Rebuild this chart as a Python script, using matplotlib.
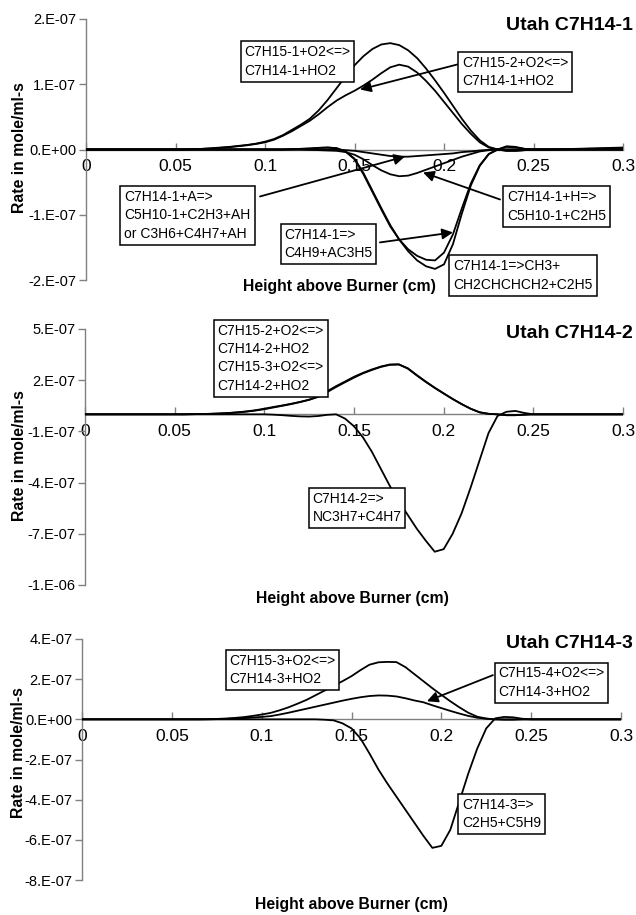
import matplotlib
matplotlib.use('Agg')
import matplotlib.pyplot as plt
from matplotlib.ticker import FuncFormatter, FixedLocator

plt.rcParams['font.family'] = ['Liberation Sans', 'DejaVu Sans']

W, H = 636, 915
SCALE = 1e-7  # all rates below are in units of 1e-7 mole/ml-s

# height above burner (cm), shared by every series
height = [0.0,
          0.05, 0.055, 0.06, 0.065, 0.07, 0.075, 0.08, 0.085, 0.09, 0.095,
          0.1, 0.105, 0.11, 0.115, 0.12, 0.125, 0.13, 0.135, 0.14, 0.145,
          0.15, 0.155, 0.16, 0.165, 0.17, 0.175, 0.18, 0.185, 0.19, 0.195,
          0.2, 0.205, 0.21, 0.215, 0.22, 0.225, 0.23, 0.235, 0.24, 0.245,
          0.25, 0.255, 0.26, 0.3]

# --- Utah C7H14-1 ---
r1_c7h15_1_o2 = [0,
                 0, 0, 0.005, 0.01, 0.02, 0.03, 0.04, 0.055, 0.07, 0.09,
                 0.12, 0.16, 0.22, 0.3, 0.38, 0.47, 0.6, 0.76, 0.94, 1.12,
                 1.29, 1.43, 1.54, 1.61, 1.63, 1.6, 1.52, 1.4, 1.24, 1.06,
                 0.87, 0.67, 0.47, 0.29, 0.14, 0.04, 0.0, -0.02, -0.02, -0.01,
                 0, 0, 0, 0.03]
r1_c7h15_2_o2 = [0,
                 0, 0, 0.005, 0.01, 0.015, 0.025, 0.035, 0.05, 0.065, 0.085,
                 0.11, 0.15, 0.21, 0.28, 0.36, 0.44, 0.54, 0.65, 0.75, 0.83,
                 0.9, 0.98, 1.07, 1.17, 1.26, 1.3, 1.27, 1.18, 1.05, 0.9,
                 0.73, 0.56, 0.39, 0.24, 0.11, 0.03, 0.0, -0.02, -0.02, -0.01,
                 0, 0, 0, 0.02]
r1_c4h9_ac3h5 = [0,
                 0, 0, 0, 0, 0, 0, 0, 0, 0, 0,
                 0, 0, 0, 0.005, 0.01, 0.015, 0.025, 0.03, 0.02, -0.03,
                 -0.15, -0.38, -0.65, -0.92, -1.18, -1.38, -1.53, -1.63, -1.69, -1.7,
                 -1.58, -1.3, -0.9, -0.52, -0.24, -0.07, 0.0, 0.04, 0.03, 0.01,
                 0, 0, 0, 0]
r1_ch3_c4h6_c2h5 = [0,
                    0, 0, 0, 0, 0, 0, 0, 0, 0, 0,
                    0, 0, 0, 0.005, 0.01, 0.015, 0.025, 0.03, 0.02, -0.03,
                    -0.14, -0.36, -0.63, -0.9, -1.16, -1.38, -1.56, -1.7, -1.79, -1.83,
                    -1.76, -1.45, -0.98, -0.55, -0.25, -0.07, 0.0, 0.05, 0.04, 0.01,
                    0, 0, 0, 0]
r1_h_abstr = [0,
              0, 0, 0, 0, 0, 0, 0, 0, 0, 0,
              0, 0, 0, 0, 0, -0.005, -0.01, -0.015, -0.02, -0.04,
              -0.08, -0.15, -0.24, -0.32, -0.38, -0.41, -0.4, -0.36, -0.31, -0.26,
              -0.21, -0.16, -0.11, -0.07, -0.03, -0.01, 0, 0, 0, 0,
              0, 0, 0, 0]
r1_a_abstr = [0,
              0, 0, 0, 0, 0, 0, 0, 0, 0, 0,
              0, 0, 0, 0, 0, 0, 0, 0, 0, -0.01,
              -0.02, -0.04, -0.06, -0.08, -0.1, -0.11, -0.11, -0.1, -0.09, -0.08,
              -0.07, -0.06, -0.04, -0.03, -0.015, -0.005, 0, 0, 0, 0,
              0, 0, 0, 0]

# --- Utah C7H14-2 ---
r2_c7h15_2_o2 = [0,
                 0, 0, 0.01, 0.02, 0.03, 0.05, 0.08, 0.12, 0.17, 0.24,
                 0.33, 0.43, 0.52, 0.62, 0.73, 0.86, 1.05, 1.35, 1.65, 1.92,
                 2.2, 2.43, 2.63, 2.8, 2.92, 2.93, 2.68, 2.28, 1.9, 1.55,
                 1.22, 0.9, 0.6, 0.33, 0.12, 0.03, 0.0, -0.05, -0.05, -0.02,
                 0, 0, 0, 0]
r2_c7h15_3_o2 = [0,
                 0, 0, 0.01, 0.02, 0.03, 0.05, 0.07, 0.11, 0.16, 0.22,
                 0.3, 0.4, 0.5, 0.6, 0.72, 0.85, 1.02, 1.3, 1.6, 1.88,
                 2.15, 2.4, 2.6, 2.78, 2.9, 2.92, 2.7, 2.3, 1.92, 1.56,
                 1.23, 0.9, 0.6, 0.33, 0.12, 0.03, 0.0, -0.05, -0.05, -0.02,
                 0, 0, 0, 0]
r2_nc3h7_c4h7 = [0,
                 0, 0, 0, 0, 0, 0, 0, 0, 0, 0,
                 0, -0.02, -0.05, -0.09, -0.12, -0.13, -0.1, -0.03, 0.0, -0.25,
                 -0.7, -1.35, -2.2, -3.2, -4.2, -5.1, -5.9, -6.7, -7.4, -8.05,
                 -7.9, -7.0, -5.8, -4.3, -2.7, -1.1, -0.1, 0.15, 0.2, 0.08,
                 0, 0, 0, 0]

# --- Utah C7H14-3 ---
r3_c7h15_3_o2 = [0,
                 0, 0, 0, 0, 0.01, 0.02, 0.04, 0.07, 0.11, 0.17,
                 0.24, 0.32, 0.45, 0.6, 0.78, 0.97, 1.2, 1.43, 1.67, 1.9,
                 2.15, 2.45, 2.72, 2.84, 2.86, 2.85, 2.6, 2.25, 1.9, 1.55,
                 1.22, 0.9, 0.6, 0.33, 0.13, 0.04, 0.0, -0.02, -0.02, 0,
                 0, 0, 0, 0]
r3_c7h15_4_o2 = [0,
                 0, 0, 0, 0, 0, 0.01, 0.02, 0.04, 0.06, 0.09,
                 0.12, 0.16, 0.24, 0.33, 0.43, 0.53, 0.63, 0.73, 0.83, 0.93,
                 1.02, 1.1, 1.16, 1.19, 1.18, 1.14, 1.05, 0.94, 0.85, 0.7,
                 0.56, 0.42, 0.29, 0.17, 0.08, 0.03, 0, 0, 0, 0,
                 0, 0, 0, 0]
r3_c2h5_c5h9 = [0,
                0, 0, 0, 0, 0, 0, 0, 0, 0, 0,
                0, 0, 0, 0, 0, 0, 0, -0.02, -0.05, -0.2,
                -0.45, -0.95, -1.7, -2.5, -3.2, -3.85, -4.5, -5.15, -5.8, -6.4,
                -6.3, -5.5, -4.1, -2.7, -1.45, -0.45, 0.05, 0.12, 0.1, 0.03,
                0, 0, 0, 0]

x_ticks = [0, 0.05, 0.1, 0.15, 0.2, 0.25, 0.3]
y_ticks_1 = [-2, -1, 0, 1, 2]
y_ticks_2 = [-10, -7, -4, -1, 2, 5]
y_ticks_3 = [-8, -6, -4, -2, 0, 2, 4]

fig = plt.figure(figsize=(W / 100, H / 100), dpi=100)


def add_panel(left, top, right, bottom):
    return fig.add_axes([left / W, 1 - bottom / H, (right - left) / W, (bottom - top) / H])


def fig_text(x, y, s, **kw):
    fig.text(x / W, 1 - y / H, s, **kw)


def setup(ax, yticks):
    ax.set_xlim(0, 0.3)
    ax.set_ylim(yticks[0] * SCALE, yticks[-1] * SCALE)
    for side in ['top', 'right']:
        ax.spines[side].set_visible(False)
    ax.spines['bottom'].set_position(('data', 0))
    for side in ['left', 'bottom']:
        ax.spines[side].set_color('#808080')
        ax.spines[side].set_linewidth(1.0)
    ax.xaxis.set_major_locator(FixedLocator(x_ticks))
    ax.yaxis.set_major_locator(FixedLocator([v * SCALE for v in yticks]))
    ax.xaxis.set_major_formatter(FuncFormatter(lambda v, p: '%g' % round(v, 3)))
    ax.yaxis.set_major_formatter(FuncFormatter(lambda v, p: f'{v:#.0E}'))
    ax.tick_params(axis='x', direction='in', length=5, width=1, color='#808080',
                   labelsize=12.5, pad=7)
    ax.tick_params(axis='y', direction='out', length=5, width=1, color='#808080',
                   labelsize=10.5, pad=2)
    ax.patch.set_visible(False)


def curve(ax, ys):
    ax.plot(height, [v * SCALE for v in ys], color='black', lw=1.3, zorder=3)


def box(ax, x, y, s):
    ax.text(x, y * SCALE, s, ha='center', va='center', multialignment='left',
            fontsize=10, linespacing=1.4, zorder=6,
            bbox=dict(boxstyle='square,pad=0.28', fc='white', ec='black', lw=1.1))


def arrow(ax, tail, tip):
    ax.annotate('', xy=(tip[0], tip[1] * SCALE), xytext=(tail[0], tail[1] * SCALE),
                arrowprops=dict(arrowstyle='-|>', color='black', lw=1.3,
                                mutation_scale=16, shrinkA=0, shrinkB=0),
                zorder=5)


label_kw = dict(fontsize=11.3, fontweight='bold', ha='center', va='center')
title_kw = dict(fontsize=14, fontweight='bold', ha='right', va='center')

# panel 1
ax1 = add_panel(86, 19, 623, 280)
setup(ax1, y_ticks_1)
for ys in [r1_c7h15_1_o2, r1_c7h15_2_o2, r1_c4h9_ac3h5, r1_ch3_c4h6_c2h5,
           r1_h_abstr, r1_a_abstr]:
    curve(ax1, ys)
arrow(ax1, (0.2073, 1.302), (0.1531, 0.919))
arrow(ax1, (0.0972, -0.72), (0.1782, -0.107))
arrow(ax1, (0.1642, -1.424), (0.2050, -1.271))
arrow(ax1, (0.2313, -0.766), (0.1883, -0.352))
box(ax1, 0.1182, 1.348, 'C7H15-1+O2<=>\nC7H14-1+HO2')
box(ax1, 0.2397, 1.187, 'C7H15-2+O2<=>\nC7H14-1+HO2')
box(ax1, 0.0567, -1.011, 'C7H14-1+A=>\nC5H10-1+C2H3+AH\nor C3H6+C4H7+AH')
box(ax1, 0.1355, -1.447, 'C7H14-1=>\nC4H9+AC3H5')
box(ax1, 0.2628, -0.873, 'C7H14-1+H=>\nC5H10-1+C2H5')
box(ax1, 0.2441, -1.93, 'C7H14-1=>CH3+\nCH2CHCHCH2+C2H5')
fig_text(633, 25, 'Utah C7H14-1', **title_kw)
fig_text(339, 287, 'Height above Burner (cm)', **label_kw)
fig_text(20, 148, 'Rate in mole/ml-s', rotation=90, **label_kw)

# panel 2
ax2 = add_panel(85, 329, 623, 585)
setup(ax2, y_ticks_2)
for ys in [r2_c7h15_2_o2, r2_c7h15_3_o2, r2_nc3h7_c4h7]:
    curve(ax2, ys)
box(ax2, 0.1035, 3.294, 'C7H15-2+O2<=>\nC7H14-2+HO2\nC7H15-3+O2<=>\nC7H14-2+HO2')
box(ax2, 0.1517, -5.5, 'C7H14-2=>\nNC3H7+C4H7')
fig_text(633, 333, 'Utah C7H14-2', **title_kw)
fig_text(352, 598, 'Height above Burner (cm)', **label_kw)
fig_text(20, 456, 'Rate in mole/ml-s', rotation=90, **label_kw)

# panel 3
ax3 = add_panel(82, 639, 621, 880)
setup(ax3, y_ticks_3)
for ys in [r3_c7h15_3_o2, r3_c7h15_4_o2, r3_c2h5_c5h9]:
    curve(ax3, ys)
arrow(ax3, (0.2287, 2.2), (0.192, 0.9))
box(ax3, 0.1116, 2.45, 'C7H15-3+O2<=>\nC7H14-3+HO2')
box(ax3, 0.2613, 1.825, 'C7H15-4+O2<=>\nC7H14-3+HO2')
box(ax3, 0.2334, -4.7, 'C7H14-3=>\nC2H5+C5H9')
fig_text(633, 643, 'Utah C7H14-3', **title_kw)
fig_text(351, 905, 'Height above Burner (cm)', **label_kw)
fig_text(19, 753, 'Rate in mole/ml-s', rotation=90, **label_kw)

fig.savefig('out.png', dpi=100)
